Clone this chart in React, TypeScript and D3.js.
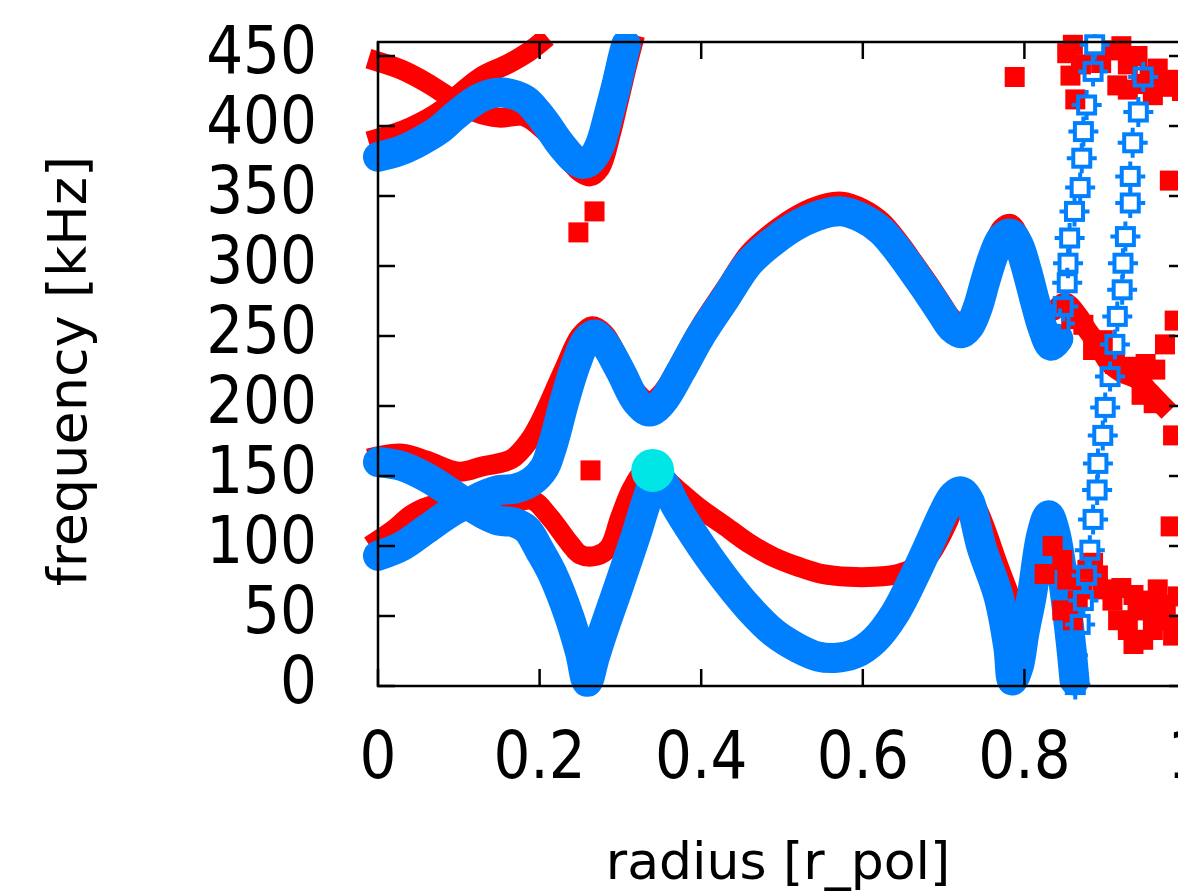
import React from "react";
import * as d3 from "d3";

type P = [number, number];

// ---------- axes ----------
const radiusTicks = [0, 0.2, 0.4, 0.6, 0.8, 1];
const radiusTickLabels = ["0", "0.2", "0.4", "0.6", "0.8", "1"];
const freqTicks = [0, 50, 100, 150, 200, 250, 300, 350, 400, 450];
const freqTickLabels = ["0", "50", "100", "150", "200", "250", "300", "350", "400", "450"];
const xTitle = "radius [r_pol]";
const yTitle = "frequency [kHz]";

// ---------- blue (dense bands) : [radius, frequency kHz] ----------
const blueUpperBranch: P[] = [
  [0, 378], [0.026, 382], [0.052, 389], [0.075, 397], [0.093, 406], [0.11, 414], [0.126, 420],
  [0.14, 423], [0.154, 424], [0.17, 422], [0.184, 418], [0.197, 410], [0.209, 401], [0.222, 390],
  [0.233, 382], [0.243, 376], [0.252, 373], [0.26, 374], [0.268, 379], [0.275, 387], [0.28, 396],
  [0.285, 407], [0.29, 418], [0.295, 429], [0.299, 439], [0.303, 449], [0.307, 458],
];

const blueLowerBranch: P[] = [
  [0, 160], [0.03, 157], [0.06, 149], [0.09, 138], [0.11, 130], [0.13, 123], [0.15, 118],
  [0.167, 117], [0.184, 112], [0.2, 97], [0.216, 80], [0.237, 49], [0.25, 24], [0.259, 3],
  [0.268, 20], [0.278, 38], [0.299, 73], [0.32, 109], [0.333, 133], [0.343, 148], [0.352, 146],
  [0.37, 127], [0.4, 100], [0.43, 76], [0.46, 55], [0.49, 38], [0.52, 27], [0.545, 21],
  [0.565, 20], [0.59, 23], [0.615, 33], [0.64, 52], [0.665, 80], [0.685, 105], [0.7, 124],
  [0.712, 136], [0.722, 139], [0.732, 132], [0.747, 99], [0.768, 64], [0.78, 28], [0.785, 4],
  [0.793, 14], [0.8, 38], [0.809, 64], [0.821, 108], [0.83, 122], [0.838, 110], [0.845, 88],
  [0.852, 58], [0.858, 28], [0.862, 4],
];

const blueMiddleBranch: P[] = [
  [0, 93], [0.03, 100], [0.06, 112], [0.09, 124], [0.11, 130], [0.13, 136], [0.15, 140],
  [0.17, 141], [0.19, 146], [0.206, 156], [0.215, 170], [0.221, 182], [0.231, 204], [0.245, 230],
  [0.258, 247], [0.268, 251], [0.28, 245], [0.3, 225], [0.32, 203], [0.336, 196], [0.352, 203],
  [0.375, 225], [0.398, 249], [0.43, 277], [0.459, 302], [0.49, 318], [0.521, 330], [0.55, 337],
  [0.574, 339], [0.6, 334], [0.623, 325], [0.645, 310], [0.665, 294], [0.682, 280], [0.698, 266],
  [0.71, 256], [0.722, 252], [0.732, 257], [0.742, 270], [0.752, 290], [0.762, 308], [0.772, 320],
  [0.783, 323], [0.793, 315], [0.803, 297], [0.813, 275], [0.823, 255], [0.833, 243], [0.842, 248],
];

// ---------- blue (separate open symbols on steep parts) ----------
const blueColumnA: P[] = [
  [0.844, 259], [0.848, 271], [0.853, 288], [0.854, 302], [0.856, 320], [0.862, 339],
  [0.869, 356], [0.871, 377], [0.873, 396], [0.877, 415], [0.885, 439], [0.887, 458],
];
const blueColumnB: P[] = [
  [0.863, 1], [0.86, 22], [0.869, 44], [0.873, 61], [0.877, 79], [0.881, 97], [0.885, 119],
  [0.89, 140], [0.891, 159], [0.897, 179], [0.9, 199], [0.906, 221], [0.912, 244], [0.915, 264],
  [0.921, 283], [0.922, 302], [0.925, 321], [0.931, 345], [0.931, 364], [0.934, 388],
  [0.941, 410], [0.947, 435],
];

// ---------- red ----------
const redTopA: P[] = [
  [0, 446], [0.03, 440], [0.06, 431], [0.09, 420], [0.12, 410], [0.15, 406], [0.18, 407],
  [0.205, 397], [0.23, 380], [0.25, 367], [0.262, 364], [0.275, 370], [0.288, 394], [0.298, 418],
  [0.307, 440], [0.315, 458],
];
const redTopB: P[] = [
  [0, 391], [0.04, 399], [0.08, 412], [0.105, 425], [0.13, 436], [0.16, 444], [0.184, 452], [0.2, 459],
];
const redMiddle: P[] = [
  [0, 164], [0.03, 166], [0.06, 161], [0.1, 153], [0.13, 157], [0.165, 162], [0.188, 176],
  [0.2, 188], [0.21, 200], [0.23, 226], [0.25, 250], [0.265, 257], [0.28, 252], [0.3, 232],
  [0.32, 210], [0.336, 203], [0.352, 210], [0.375, 232], [0.398, 256], [0.43, 284], [0.459, 309],
  [0.49, 325], [0.521, 337], [0.55, 344], [0.574, 346], [0.6, 341], [0.623, 332], [0.645, 317],
  [0.665, 301], [0.682, 287], [0.698, 273], [0.71, 263], [0.722, 259], [0.732, 264], [0.742, 277],
  [0.752, 297], [0.762, 315], [0.772, 327], [0.783, 330], [0.793, 322], [0.803, 304], [0.813, 283],
  [0.823, 270], [0.835, 268], [0.85, 274], [0.866, 265], [0.878, 254], [0.891, 244], [0.903, 232],
  [0.92, 224], [0.94, 219], [0.955, 210], [0.97, 201],
];
const redLower: P[] = [
  [0, 104], [0.02, 112], [0.043, 123], [0.073, 130], [0.1, 131], [0.13, 129], [0.16, 129],
  [0.19, 133], [0.212, 121], [0.237, 102], [0.25, 94], [0.27, 93], [0.286, 99], [0.3, 121],
  [0.315, 142], [0.33, 153], [0.35, 150], [0.375, 138], [0.398, 127], [0.43, 114], [0.459, 102],
  [0.49, 92], [0.521, 85], [0.55, 80], [0.583, 78], [0.614, 78], [0.644, 80], [0.665, 85],
  [0.681, 92], [0.695, 105], [0.706, 118], [0.72, 136], [0.73, 137], [0.742, 126], [0.754, 109],
  [0.766, 89], [0.779, 69], [0.791, 51],
];
const redScatter: P[] = [
  [0.248, 324], [0.268, 339], [0.263, 154], [0.788, 435],
  // top-right cluster
  [0.86, 458], [0.87, 444], [0.863, 419], [0.857, 436], [0.853, 452], [0.895, 445], [0.909, 454],
  [0.928, 444], [0.915, 429], [0.928, 426], [0.92, 457], [0.94, 450], [0.945, 430], [0.955, 436],
  [0.959, 422], [0.965, 441], [0.975, 428], [0.984, 433], [0.995, 425],
  // right edge
  [0.98, 361], [0.986, 261], [0.974, 244], [0.984, 179], [0.981, 114],
  // red band to the right
  [0.858, 262], [0.873, 258], [0.885, 240], [0.897, 247], [0.912, 230], [0.928, 228],
  [0.945, 208], [0.96, 202], [0.962, 226], [0.95, 230],
  // bottom-right cluster
  [0.885, 88], [0.891, 79], [0.897, 69], [0.909, 61], [0.916, 47], [0.928, 40], [0.94, 54],
  [0.953, 61], [0.965, 69], [0.971, 47], [0.984, 36], [0.959, 40], [0.947, 33], [0.92, 70],
  [0.935, 65], [0.96, 52], [0.975, 58], [0.99, 44], [0.99, 64], [0.935, 30],
  // bump region
  [0.847, 90], [0.853, 76], [0.866, 61], [0.872, 69], [0.86, 47], [0.878, 83], [0.847, 54],
  [0.825, 80], [0.835, 100],
];

// ---------- highlighted point ----------
const markerPoint: P[] = [[0.34, 154]];

const RED = "#ff0000";
const BLUE = "#0080ff";
const CYAN = "#00e5e5";
const FONT = "DejaVu Sans";

export default function App() {
  const left = 378, right = 1186, top = 42, bottom = 686;
  const x = d3.scaleLinear().domain([0, 1]).range([left, right]);
  const y = d3.scaleLinear().domain([0, 460]).range([bottom, top]);
  const line = d3
    .line<P>()
    .x((d) => x(d[0]))
    .y((d) => y(d[1]))
    .curve(d3.curveCatmullRom.alpha(0.5));

  const redBands = [redTopA, redTopB, redMiddle, redLower];
  const blueBands = [blueUpperBranch, blueLowerBranch, blueMiddleBranch];
  const blueCols = [...blueColumnA, ...blueColumnB];
  const tick = 17;

  return (
    <svg
      width={1178}
      height={896}
      style={{ position: "absolute", left: 0, top: 0, background: "#fff" }}
    >
      <defs>
        <clipPath id="plotclip">
          <rect x={0} y={34} width={1178} height={670} />
        </clipPath>
      </defs>
      <rect x={0} y={0} width={1178} height={896} fill="#fff" />
      <g clipPath="url(#plotclip)">
        {redBands.map((b, i) => (
          <path
            key={"rb" + i}
            d={line(b) || ""}
            fill="none"
            stroke={RED}
            strokeWidth={20}
            strokeLinejoin="round"
            strokeLinecap="square"
          />
        ))}
        {blueBands.map((b, i) => (
          <path
            key={"bb" + i}
            d={line(b) || ""}
            fill="none"
            stroke={BLUE}
            strokeWidth={30}
            strokeLinejoin="round"
            strokeLinecap="round"
          />
        ))}
        {redScatter.map((d, i) => (
          <rect
            key={"rs" + i}
            x={x(d[0]) - 10}
            y={y(d[1]) - 10}
            width={20}
            height={20}
            fill={RED}
          />
        ))}
        {blueCols.map((d, i) => (
          <g key={"bc" + i} transform={`translate(${x(d[0])},${y(d[1])})`}>
            <rect x={-8.5} y={-8.5} width={17} height={17} fill="none" stroke={BLUE} strokeWidth={4} />
            <path d="M-15,0H-10M10,0H15M0,-15V-10M0,10V15" stroke={BLUE} strokeWidth={4} />
          </g>
        ))}
        {markerPoint.map((d, i) => (
          <circle key={"mp" + i} cx={x(d[0])} cy={y(d[1])} r={21.5} fill={CYAN} />
        ))}
      </g>

      {/* frame */}
      <rect x={left} y={top} width={right - left} height={bottom - top} fill="none" stroke="#000" strokeWidth={2.5} />
      {freqTicks.map((t, i) => (
        <g key={"yt" + i}>
          <line x1={left} x2={left + tick} y1={y(t)} y2={y(t)} stroke="#000" strokeWidth={2.5} />
          <line x1={right} x2={right - tick} y1={y(t)} y2={y(t)} stroke="#000" strokeWidth={2.5} />
          <text
            transform={`translate(317,${y(t) + 17}) scale(0.88,1)`}
            textAnchor="end"
            fontFamily={FONT}
            fontSize={66}
            fill="#000"
          >
            {freqTickLabels[i]}
          </text>
        </g>
      ))}
      {radiusTicks.map((t, i) => (
        <g key={"xt" + i}>
          <line x1={x(t)} x2={x(t)} y1={bottom} y2={bottom - tick} stroke="#000" strokeWidth={2.5} />
          <line x1={x(t)} x2={x(t)} y1={top} y2={top + tick} stroke="#000" strokeWidth={2.5} />
          <text
            transform={`translate(${x(t)},778) scale(0.88,1)`}
            textAnchor="middle"
            fontFamily={FONT}
            fontSize={66}
            fill="#000"
          >
            {radiusTickLabels[i]}
          </text>
        </g>
      ))}
      <text x={778} y={879} textAnchor="middle" fontFamily={FONT} fontSize={52} fill="#000">
        {xTitle}
      </text>
      <text
        transform="translate(86,371) rotate(-90)"
        textAnchor="middle"
        fontFamily={FONT}
        fontSize={54}
        fill="#000"
      >
        {yTitle}
      </text>
    </svg>
  );
}
